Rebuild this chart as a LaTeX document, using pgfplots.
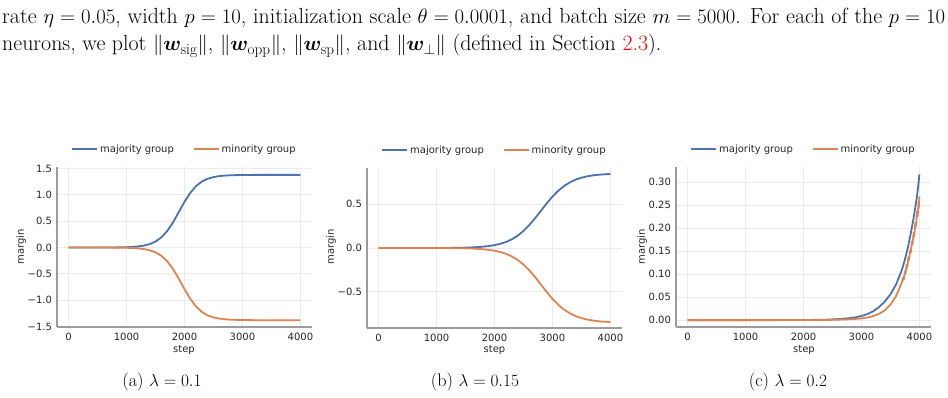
\documentclass[border=0pt]{standalone}
\usepackage{amsmath}
\usepackage{bm}
\usepackage{xcolor}
\usepackage{fontspec}
\newfontfamily\dejavu{DejaVu Sans}
\usepackage{pgfplots}
\pgfplotsset{compat=1.18}

\definecolor{cblue}{RGB}{76,114,176}
\definecolor{corange}{RGB}{221,132,82}
\definecolor{spine}{RGB}{155,155,155}
\definecolor{gridc}{RGB}{235,235,235}
\definecolor{txt}{RGB}{38,38,38}

\newcommand{\plotfont}{\dejavu\fontsize{10}{12}\selectfont}

\pgfplotsset{
  marginplot/.style={
    scale only axis, width=255pt, height=160pt,
    axis lines*=left,
    axis line style={spine, line width=1.4pt},
    xmin=-200, xmax=4200,
    xtick={0,1000,2000,3000,4000},
    xticklabels={0,1000,2000,3000,4000},
    scaled ticks=false,
    major tick length=0pt,
    grid=major,
    major grid style={gridc, line width=0.8pt},
    tick label style={font=\plotfont, text=txt},
    xticklabel style={yshift=-2.5pt},
    yticklabel style={xshift=-1.5pt},
    legend style={at={(0.5,1)}, anchor=center, yshift=18pt, draw=none, fill=none,
      legend columns=2, font=\plotfont, text=txt,
      /tikz/every even column/.append style={column sep=17pt}},
    legend image code/.code={\draw[#1, line width=1.8pt] (0pt,0pt) -- (20pt,0pt);
      \path (0pt,0pt) -- (25pt,0pt);},
    every axis plot/.append style={line width=1.8pt, line join=round},
  }
}

\begin{document}
\begin{tikzpicture}
\fill[white] (0pt,0pt) rectangle (948pt,-398pt);
\path[use as bounding box] (0pt,0pt) rectangle (948pt,-398pt);

% running text above the figure
\node[anchor=base west, inner sep=0pt] at (2pt,-24pt)
  {\fontsize{21.9}{27}\selectfont\makebox[943pt][s]{rate $\eta = 0.05$, width $p = 10$, initialization scale $\theta = 0.0001$, and batch size $m = 5000$. For each of the $p = 10$}};
\node[anchor=base west, inner sep=0pt] at (2pt,-51pt)
  {\fontsize{21.9}{27}\selectfont neurons, we plot $\|\bm{w}_{\mathrm{sig}}\|$, $\|\bm{w}_{\mathrm{opp}}\|$, $\|\bm{w}_{\mathrm{sp}}\|$, and $\|\bm{w}_{\perp}\|$ (defined in Section \textcolor{red}{2.3}).};

% (a) lambda = 0.1
\begin{axis}[marginplot, at={(57pt,-327pt)}, anchor=south west,
  ymin=-1.51, ymax=1.53,
  ytick={-1.5,-1,-0.5,0,0.5,1,1.5},
  yticklabels={−1.5,−1.0,−0.5,0.0,0.5,1.0,1.5}]
\addplot[cblue] coordinates {
(0,0) (100,0) (200,0) (300,0) (400,0.0001) (500,0.0003) (600,0.0006) (700,0.0011)
(800,0.002) (900,0.0036) (1000,0.0065) (1100,0.0117) (1200,0.0209) (1300,0.0371)
(1400,0.0654) (1500,0.1136) (1600,0.192) (1700,0.311) (1800,0.474) (1900,0.670)
(2000,0.868) (2100,1.040) (2200,1.168) (2300,1.254) (2400,1.307) (2500,1.338)
(2600,1.357) (2700,1.367) (2800,1.373) (2900,1.376) (3000,1.378) (3100,1.379)
(3200,1.380) (3300,1.380) (3400,1.380) (3500,1.380) (3600,1.380) (3700,1.380)
(3800,1.380) (3900,1.380) (4000,1.380)};
\addlegendentry{majority group}
\addplot[corange] coordinates {
(0,0) (100,0) (200,0) (300,0) (400,-0.0001) (500,-0.0002) (600,-0.0005) (700,-0.0009)
(800,-0.0016) (900,-0.0029) (1000,-0.0051) (1100,-0.0092) (1200,-0.0166) (1300,-0.0296)
(1400,-0.0523) (1500,-0.0914) (1600,-0.156) (1700,-0.258) (1800,-0.404) (1900,-0.589)
(2000,-0.791) (2100,-0.976) (2200,-1.122) (2300,-1.224) (2400,-1.289) (2500,-1.328)
(2600,-1.350) (2700,-1.363) (2800,-1.371) (2900,-1.375) (3000,-1.377) (3100,-1.379)
(3200,-1.380) (3300,-1.381) (3400,-1.380) (3500,-1.381) (3600,-1.380) (3700,-1.381)
(3800,-1.380) (3900,-1.381) (4000,-1.380)};
\addlegendentry{minority group}
\end{axis}

% (b) lambda = 0.15
\begin{axis}[marginplot, at={(367pt,-328pt)}, anchor=south west,
  ymin=-0.915, ymax=0.915,
  ytick={-0.5,0,0.5},
  yticklabels={−0.5,0.0,0.5}]
\addplot[cblue] coordinates {
(0,0) (100,0) (200,0) (300,0) (400,0) (500,0) (600,0.0001) (700,0.0002)
(800,0.0003) (900,0.0004) (1000,0.0006) (1100,0.0009) (1200,0.0013) (1300,0.002)
(1400,0.003) (1500,0.0045) (1600,0.0067) (1700,0.0100) (1800,0.0148) (1900,0.022)
(2000,0.0324) (2100,0.0477) (2200,0.0694) (2300,0.0999) (2400,0.141) (2500,0.195)
(2600,0.262) (2700,0.340) (2800,0.425) (2900,0.510) (3000,0.588) (3100,0.655)
(3200,0.709) (3300,0.751) (3400,0.782) (3500,0.804) (3600,0.820) (3700,0.831)
(3800,0.838) (3900,0.843) (4000,0.847)};
\addlegendentry{majority group}
\addplot[corange] coordinates {
(0,0) (100,0) (200,0) (300,0) (400,0) (500,0) (600,-0.0001) (700,-0.0002)
(800,-0.0002) (900,-0.0004) (1000,-0.0006) (1100,-0.0008) (1200,-0.0012) (1300,-0.0019)
(1400,-0.0028) (1500,-0.0042) (1600,-0.0063) (1700,-0.0095) (1800,-0.0141) (1900,-0.021)
(2000,-0.0310) (2100,-0.0457) (2200,-0.0667) (2300,-0.0962) (2400,-0.136) (2500,-0.189)
(2600,-0.255) (2700,-0.332) (2800,-0.417) (2900,-0.502) (3000,-0.581) (3100,-0.649)
(3200,-0.704) (3300,-0.747) (3400,-0.779) (3500,-0.802) (3600,-0.818) (3700,-0.830)
(3800,-0.838) (3900,-0.843) (4000,-0.847)};
\addlegendentry{minority group}
\end{axis}

% (c) lambda = 0.2
\begin{axis}[marginplot, at={(676pt,-327pt)}, anchor=south west,
  ymin=-0.015, ymax=0.333,
  ytick={0,0.05,0.1,0.15,0.2,0.25,0.3},
  yticklabels={0.00,0.05,0.10,0.15,0.20,0.25,0.30}]
\addplot[cblue] coordinates {
(0,0) (500,0) (1000,0) (1400,0.0001) (1600,0.0001) (1800,0.0002) (2000,0.0003)
(2100,0.0004) (2200,0.0005) (2300,0.0007) (2400,0.001) (2500,0.0015) (2600,0.0021)
(2700,0.003) (2800,0.0043) (2900,0.0062) (3000,0.009) (3100,0.013) (3200,0.019)
(3300,0.028) (3400,0.040) (3500,0.056) (3600,0.078) (3700,0.110) (3750,0.132)
(3800,0.157) (3850,0.188) (3900,0.222) (3950,0.262) (3975,0.287) (4000,0.317)};
\addlegendentry{majority group}
\addplot[corange] coordinates {
(0,0) (500,0) (1000,0) (1500,0) (2000,0.0001) (2200,0.0002) (2400,0.0004)
(2500,0.0006) (2600,0.0009) (2700,0.0013) (2800,0.0018) (2900,0.0026) (3000,0.0036)
(3100,0.0056) (3200,0.0087) (3300,0.0134) (3400,0.021) (3500,0.0334) (3600,0.053)
(3700,0.083) (3720,0.093) (3730,0.088) (3750,0.106) (3760,0.101) (3780,0.121)
(3790,0.115) (3810,0.137) (3820,0.131) (3840,0.152) (3850,0.146) (3870,0.171)
(3880,0.164) (3900,0.190) (3910,0.182) (3930,0.212) (3940,0.203) (3960,0.236)
(3970,0.226) (3985,0.258) (3990,0.245) (4000,0.269)};
\addlegendentry{minority group}
\end{axis}

% axis titles
\foreach \cx/\lx in {184/21, 494.5/331, 804/642} {
  \node[anchor=base, font=\plotfont, text=txt, inner sep=0pt] at (\cx pt,-352.5pt) {step};
  \node[anchor=center, rotate=90, font=\plotfont, text=txt, inner sep=0pt] at (\lx pt,-247pt) {margin};
}

% sub-captions
\node[anchor=base, inner sep=0pt] at (162pt,-386pt) {\fontsize{18.2}{22}\selectfont (a) $\lambda = 0.1$};
\node[anchor=base, inner sep=0pt] at (475pt,-386pt) {\fontsize{18.2}{22}\selectfont (b) $\lambda = 0.15$};
\node[anchor=base, inner sep=0pt] at (788pt,-386pt) {\fontsize{18.2}{22}\selectfont (c) $\lambda = 0.2$};
\end{tikzpicture}
\end{document}
